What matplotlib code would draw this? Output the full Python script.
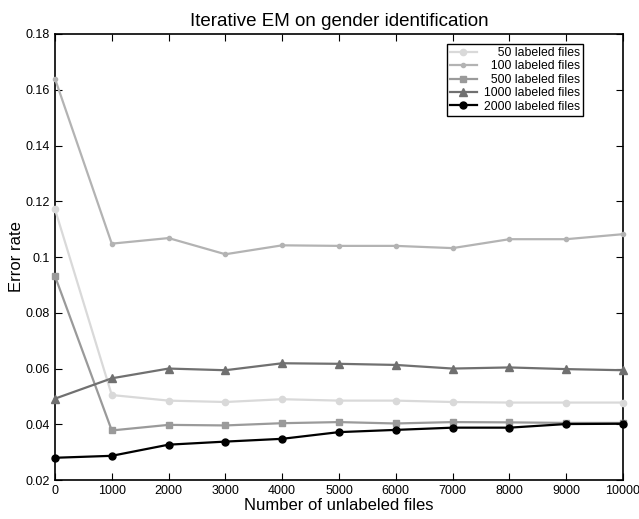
import matplotlib
matplotlib.use("Agg")
import matplotlib.pyplot as plt

plt.rcParams["font.family"] = ["Liberation Sans", "DejaVu Sans"]

unlabeled = [0, 1000, 2000, 3000, 4000, 5000, 6000, 7000, 8000, 9000, 10000]

err_50 = [0.1172, 0.0505, 0.0485, 0.0480, 0.0490, 0.0485, 0.0485, 0.0480, 0.0478, 0.0478, 0.0478]
err_100 = [0.1640, 0.1048, 0.1068, 0.1010, 0.1042, 0.1040, 0.1040, 0.1032, 0.1064, 0.1064, 0.1082]
err_500 = [0.0932, 0.0378, 0.0398, 0.0396, 0.0404, 0.0408, 0.0403, 0.0408, 0.0407, 0.0405, 0.0405]
err_1000 = [0.0492, 0.0565, 0.0600, 0.0594, 0.0619, 0.0617, 0.0613, 0.0600, 0.0604, 0.0598, 0.0594]
err_2000 = [0.0280, 0.0287, 0.0327, 0.0338, 0.0348, 0.0372, 0.0380, 0.0388, 0.0388, 0.0401, 0.0402]

# figure space pads the shorter numbers so labels line up on the right
series = [
    ("\u2007\u200750 labeled files", err_50, "#d9d9d9", "o", 4.5),
    ("\u2007100 labeled files", err_100, "#b3b3b3", "o", 3),
    ("\u2007500 labeled files", err_500, "#9a9a9a", "s", 4),
    ("1000 labeled files", err_1000, "#707070", "^", 5.5),
    ("2000 labeled files", err_2000, "#000000", "o", 5),
]

fig = plt.figure(figsize=(6.39, 5.19), dpi=100)
ax = fig.add_axes([0.086, 0.075, 0.889, 0.8595])

for label, vals, col, mk, ms in series:
    ax.plot(unlabeled, vals, color=col, marker=mk, markersize=ms, linewidth=1.6,
            label=label, clip_on=False, zorder=3)

ax.set_xlim(0, 10000)
ax.set_ylim(0.02, 0.18)
ax.set_xticks(unlabeled)
ax.set_yticks([0.02, 0.04, 0.06, 0.08, 0.1, 0.12, 0.14, 0.16, 0.18])
ax.set_yticklabels(["0.02", "0.04", "0.06", "0.08", "0.1", "0.12", "0.14", "0.16", "0.18"])
ax.tick_params(direction="in", top=True, right=True, labelsize=9, length=5)
for s in ax.spines.values():
    s.set_linewidth(1.2)

ax.set_xlabel("Number of unlabeled files", fontsize=12, labelpad=1)
ax.set_ylabel("Error rate", fontsize=12, labelpad=1)
ax.set_title("Iterative EM on gender identification", fontsize=13.5, pad=6)

leg = ax.legend(loc="upper right", fontsize=8.8, fancybox=False, edgecolor="black",
                framealpha=1, handlelength=2.2, handletextpad=0.6, borderpad=0.25,
                labelspacing=0.12, borderaxespad=0, bbox_to_anchor=(0.93, 0.978))
leg.get_frame().set_linewidth(1.0)

fig.savefig("out.png", dpi=100)
